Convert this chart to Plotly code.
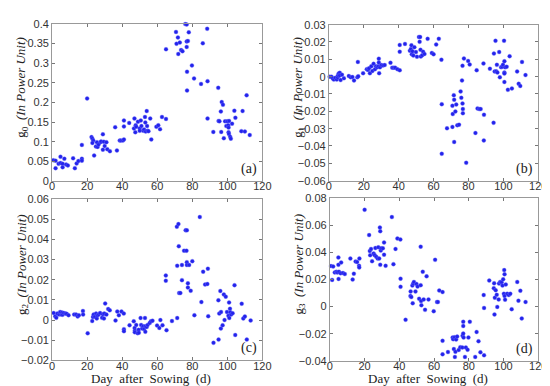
import plotly.graph_objects as go

# Panel (a): g0
a_day = [0.7,2,2,3.7,4.8,4.8,6,6,7,8,9,12,13,14,15,17,17,17,20,22.5,23,23.5,23,24,25,25.6,26,26.5,27.6,28,29,29.5,29,30,31,31.5,33,36,37,38.6,39.3,40.4,41,41,41,44,46.7,47,47.7,47.5,48,49,50,50,50.6,51,52,52.5,53,53.2,53.4,54,54.2,54.5,55,56,56.6,59.5,60.6,61.6,62.7,65,65,70.7,71,71.8,72,72.9,73.6,74.4,76,76.8,76.8,76.8,77,77,78,77.5,79.8,81,85,86,88.5,88.7,88.7,92,94.8,95,95.5,96.3,96.5,96.8,97.5,98,98.7,99.4,100,100.5,100.7,100.7,100.9,101,101.6,102,102.7,104,104.6,108,108.7,110,111,112.8]
a_val = [0.053,0.052,0.033,0.044,0.062,0.046,0.044,0.035,0.057,0.042,0.040,0.058,0.033,0.045,0.051,0.092,0.057,0.052,0.210,0.112,0.108,0.103,0.097,0.065,0.088,0.099,0.087,0.093,0.099,0.101,0.119,0.100,0.080,0.089,0.099,0.081,0.076,0.137,0.078,0.103,0.103,0.103,0.106,0.139,0.154,0.148,0.134,0.159,0.142,0.124,0.138,0.151,0.134,0.128,0.154,0.140,0.128,0.131,0.163,0.149,0.126,0.178,0.140,0.128,0.127,0.159,0.106,0.138,0.142,0.132,0.163,0.158,0.335,0.379,0.349,0.365,0.323,0.352,0.333,0.330,0.399,0.398,0.355,0.341,0.278,0.230,0.378,0.356,0.294,0.261,0.247,0.350,0.387,0.254,0.159,0.125,0.237,0.153,0.152,0.177,0.125,0.201,0.194,0.109,0.152,0.140,0.152,0.142,0.136,0.124,0.120,0.153,0.113,0.108,0.146,0.179,0.161,0.127,0.178,0.126,0.218,0.117]

# Panel (b): g1
b_day = [0.4,1.5,2.2,2.8,3.7,4.5,5,5.2,5.6,6.2,6.2,6.7,7.5,8.6,11.4,12.5,13.5,14.4,16.3,16.6,16.8,19.6,21.7,22.4,23,23.5,24.3,24.9,25.6,26.4,27,27.7,28.4,28.6,28.6,28.8,29.3,30,31,32,35.3,36.3,37.2,38,39.3,40.6,40.6,40.6,43.6,46.4,47,47.3,47.5,47.9,48.4,49,49.9,50.5,51.6,52,52.3,52.5,52.7,53.5,54,54.8,56.6,59,60,61.5,63,64.5,64.7,64.7,67.7,70.8,70.8,71,71.6,71.8,71.8,72.5,73,73.6,74.6,75.5,75.9,76.3,76.6,76.6,76.8,76.8,77.4,78.7,79.8,80.7,84,84.7,85.2,86.2,87,88.6,88.8,88.9,92.3,94.4,94.6,95,95.5,95.9,96.3,96.6,97.6,98,98.7,99.3,99.8,100.4,100.6,100.6,100.6,100.6,101,101.9,102.6,103.6,104.9,107.9,108.8,109.7,110.7,112.7]
b_val = [0.0,0.0,-0.001,-0.0017,-0.0007,-0.0017,-0.0004,0.0007,0.0018,0.0022,0.0007,-0.002,0.0011,-0.0009,0.0004,-0.0004,-0.0002,-0.0022,-0.0004,0.0085,0.0002,0.002,0.0043,0.0039,0.0048,0.002,0.006,0.0033,0.0074,0.0043,0.006,0.0054,0.006,0.0104,0.0081,0.002,0.0054,0.0067,0.0065,0.0067,0.008,0.0052,0.0052,0.0052,0.0043,0.0037,0.0183,0.0144,0.0189,0.015,0.0159,0.0181,0.0129,0.0146,0.0122,0.017,0.0142,0.0115,0.0229,0.0201,0.0229,0.0155,0.0116,0.0124,0.0144,0.0131,0.0218,0.0137,0.0129,0.0185,0.0218,0.0098,-0.0159,-0.0445,-0.0298,-0.029,-0.0168,-0.0216,-0.0107,-0.0133,-0.0377,-0.0201,-0.0161,-0.0281,-0.0277,-0.0085,-0.0122,-0.0022,0.0063,-0.0155,-0.0187,-0.0211,0.0105,-0.0497,0.0091,0.007,-0.0325,0.0037,-0.0183,-0.0187,-0.0187,0.0076,-0.0368,-0.022,0.0046,-0.0266,0.0133,0.003,0.0207,0.0031,0.0068,0.0024,0.0142,-0.0004,0.0055,0.0057,0.0068,0.0207,0.0089,0.0024,0.0018,-0.0031,0.0054,0.0057,-0.0076,0.0118,-0.0068,0.003,-0.0041,-0.0054,0.0085,0.0009]

# Panel (c): g2
c_day = [0.9,1.8,2.4,3,4,4.6,5.2,5.7,6,6.7,7.6,8.3,9.4,12.6,13.7,14.6,15.3,17.6,17.7,20.3,22.9,23.3,23.7,24.4,25.1,25.5,25.9,26.6,27.4,28.5,29,29.6,29.8,30.3,31,32,32.9,36.2,37.2,38.1,39.6,40.9,41,41,44.2,46.6,47.1,47.2,47.2,48,48.8,49.4,49.5,50.5,50.8,51.4,52,52.5,53,53.2,53.2,54,54.5,55.7,56.4,57.3,59.9,61.2,61.8,63,64.9,64.9,65.3,68.4,71.2,71.4,71.4,72.1,72.3,72.5,73.2,74.1,74.1,75.3,76.2,76.7,76.9,76.9,76.9,77.5,77.5,78.2,79.1,80,81.2,84.3,85.2,86.2,87.3,88.6,88.9,89.1,92.1,94.9,95,95.4,96,96.3,96.4,97.3,98,98.4,99.1,99.8,100.6,101,101.1,101.5,101.7,102.2,103,104.5,104.1,108.2,109.1,110,111.1,113.3]
c_val = [0.0035,0.0019,0.0011,0.0032,0.0027,0.004,0.0027,0.0037,0.0026,0.0035,0.0032,0.0031,0.0024,0.0027,0.0027,0.0018,0.0024,0.0045,0.0027,-0.0066,-0.0005,0.0015,0.0027,0.0016,0.0032,0.0008,0.0023,0.0027,0.0035,0.0011,0.0029,0.0008,0.0032,0.0082,0.0027,0.0055,0.0048,-0.0002,0.0042,0.0024,0.0042,0.0032,-0.0045,-0.0055,-0.0026,-0.0006,-0.004,-0.0053,-0.0061,-0.0024,-0.0065,-0.0048,-0.0063,0.001,-0.0024,-0.0042,-0.0031,-0.0044,0.001,-0.0031,-0.0058,-0.0034,-0.0024,-0.0015,-0.0006,-0.0003,-0.0027,-0.0039,0.0,-0.0026,0.0221,0.0195,-0.005,-0.0005,0.0463,0.0269,0.001,0.0476,0.0366,0.0134,0.0134,0.0273,0.0198,0.0344,0.0445,0.0344,0.0445,0.0287,0.0273,0.0182,0.0161,0.0273,0.0145,0.0292,0.0024,0.0511,0.0089,0.024,0.0176,0.0179,0.0255,0.0019,-0.0113,0.0098,-0.0097,0.0032,0.0144,-0.0042,0.004,-0.0026,0.0127,0.0,0.0116,0.004,0.0021,0.0087,0.001,0.0056,0.0039,0.0027,0.0034,-0.0074,0.0173,0.0081,0.0008,0.0018,-0.0097,-0.0002]

# Panel (d): g3
d_day = [0.6,1.3,1.9,2.8,3.7,4.3,4.9,4.9,5,5.2,6.2,6.5,7.5,8.6,11.8,13.1,13.8,14.8,15.7,16.8,17,16.9,20,22.6,23,23.2,23.7,24.3,25.2,25.8,26.2,26.7,27.5,27.9,28.4,28.8,29,29,29.3,29.5,30.5,31.2,32.1,31.2,35.7,36.6,37.8,38.9,40.6,40.7,40.7,43.6,46.4,46.5,46.9,47.5,47.7,48,48.4,49.3,49.9,50.5,51.4,52.3,52.3,52.5,52.7,53.5,54,54.8,55.7,56.8,59.8,60.6,61.7,62.2,63,64.9,64.9,64.9,68,70.7,71,71.4,71.8,72,72.3,72.7,73.3,74.2,75.1,76.3,76.4,76.8,76.8,76.8,77,77.8,78.3,79.3,79.8,80.6,83.7,84.5,85.6,86.7,88.6,88.8,88.8,91.8,94.4,94.6,94.8,95,95.5,96.1,96.4,97.2,97.4,98.1,98.9,99.4,99.8,100.2,100.4,100.6,100.6,100.9,101.3,102.1,103,103.9,104.7,107.9,108.6,109.7,110.5,112.7]
d_val = [0.0299,0.0197,0.0296,0.0252,0.0257,0.0252,0.0362,0.0308,0.0204,0.0257,0.0245,0.0325,0.0248,0.024,0.0354,0.0199,0.0243,0.0333,0.0328,0.0301,0.0354,0.0289,0.0714,0.0527,0.041,0.0379,0.0425,0.0335,0.0391,0.0379,0.0432,0.0367,0.0354,0.0437,0.0354,0.0583,0.0556,0.0308,0.0413,0.043,0.043,0.0473,0.0301,0.0383,0.066,0.0313,0.0425,0.0502,0.0495,0.0206,0.0146,-0.0097,0.0078,0.0112,0.007,0.0155,0.0024,0.017,0.0182,0.0112,0.0167,0.0148,0.0058,0.0158,0.0442,0.0041,0.001,0.0257,0.0053,-0.0024,0.0223,0.0053,-0.0034,0.0345,0.0034,0.0034,0.0119,0.0107,-0.0252,-0.0352,-0.0335,-0.0228,-0.024,-0.0313,-0.0226,-0.0371,-0.0333,-0.0243,-0.0221,-0.032,-0.0299,-0.0301,-0.0214,-0.0112,-0.0143,-0.0199,-0.0228,-0.0371,-0.0301,-0.0318,-0.0228,-0.0112,-0.0371,-0.0187,-0.0255,-0.0337,0.0085,-0.001,-0.0359,0.0192,0.0136,0.0172,-0.0058,0.0066,0.0121,0.0087,-0.0002,0.0053,0.017,0.0182,0.018,0.0155,0.0201,0.0095,0.0269,0.0238,0.0078,0.0051,0.0163,0.0095,0.0085,0.0095,-0.0019,0.0182,0.0044,0.0117,-0.0087,0.0034]

panels = [
    ("x", "y", a_day, a_val, [0, 0.4], 0.05, "0", "(a)"),
    ("x2", "y2", b_day, b_val, [-0.06, 0.03], 0.01, "1", "(b)"),
    ("x3", "y3", c_day, c_val, [-0.02, 0.06], 0.01, "2", "(c)"),
    ("x4", "y4", d_day, d_val, [-0.04, 0.08], 0.02, "3", "(d)"),
]

W, H = 550, 386
xdom = {"x": (42, 257), "x2": (325, 539), "x3": (42, 257), "x4": (326, 539)}
ydom = {"y": (10, 172.5), "y2": (11, 172), "y3": (191, 357.5), "y4": (190, 358)}

fig = go.Figure()
layout = dict(width=W, height=H, margin=dict(l=0, r=0, t=0, b=0),
              paper_bgcolor="white", plot_bgcolor="white", showlegend=False)

tickfont = dict(family="Liberation Sans, Arial", size=11, color="#333")
serif = "Liberation Serif, Times New Roman, serif"
nb = "\u00a0"
annotations = []

for i, (xa, ya, xs, ys, yr, dt, sub, lab) in enumerate(panels):
    fig.add_trace(go.Scatter(x=xs, y=ys, xaxis=xa, yaxis=ya, mode="markers",
                             marker=dict(size=4, color="rgb(35,35,235)",
                                         line=dict(width=0.5, color="rgba(120,120,255,0.7)")),
                             cliponaxis=False))
    xk = "xaxis" + xa[1:]
    yk = "yaxis" + ya[1:]
    x0, x1 = xdom[xa]
    y0, y1 = ydom[ya]
    layout[xk] = dict(domain=[x0 / W, x1 / W], range=[0, 120], dtick=20, tick0=0,
                      anchor=ya, showgrid=False, zeroline=False, ticks="inside",
                      ticklen=3, tickcolor="#777", showline=True, linecolor="#999",
                      linewidth=1, mirror="ticks", tickfont=tickfont,
                      ticklabelstandoff=-5)
    layout[yk] = dict(domain=[1 - y1 / H, 1 - y0 / H], range=yr, dtick=dt, tick0=0,
                      anchor=xa, showgrid=False, zeroline=False, ticks="inside",
                      ticklen=3, tickcolor="#777", showline=True, linecolor="#999",
                      linewidth=1, mirror="ticks", tickfont=tickfont)
    # y title
    ytxt = ("g<sub>" + sub + "</sub>" + nb * 2 + "<i>(In" + nb + "Power" + nb + "Unit)</i>")
    annotations.append(dict(xref="paper", yref="paper", x=(x0 - 31) / W,
                            y=1 - ((y0 + y1) / 2 - 16) / H, text=ytxt, textangle=-90,
                            showarrow=False, xanchor="center", yanchor="middle",
                            font=dict(family=serif, size=13, color="#222")))
    # panel label
    annotations.append(dict(xref="paper", yref="paper", x=(x1 - 3) / W,
                            y=1 - (y1 - 2) / H, text=lab, showarrow=False,
                            xanchor="right", yanchor="bottom",
                            font=dict(family=serif, size=14, color="#222")))

for xa, cx in (("x3", 143), ("x4", 426)):
    annotations.append(dict(xref="paper", yref="paper", x=cx / W, y=1 - 376 / H,
                            text="Day" + nb * 2 + "after" + nb * 2 + "Sowing" + nb * 2 + "(d)",
                            showarrow=False, xanchor="center", yanchor="middle",
                            font=dict(family=serif, size=13, color="#222")))

layout["annotations"] = annotations
fig.update_layout(**layout)
fig.write_html("out.html")
